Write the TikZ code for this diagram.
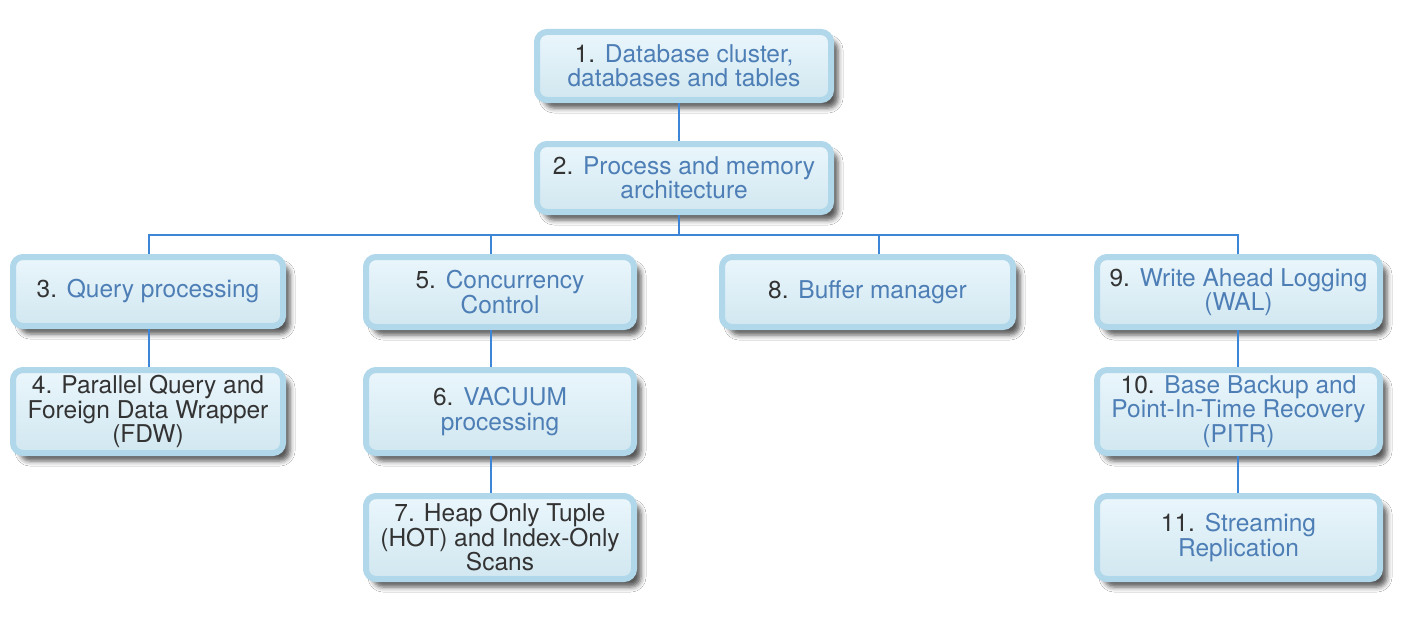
\documentclass[tikz,border=0pt]{standalone}
\usepackage{fontspec}
\newfontfamily\topicfont{TeX Gyre Heros}
\usetikzlibrary{shadows.blur}
\definecolor{numcol}{HTML}{333333}
\definecolor{titlecol}{HTML}{4D7EB5}
\definecolor{boxborder}{HTML}{B1D8EA}
\definecolor{boxtop}{HTML}{EAF6FC}
\definecolor{boxbottom}{HTML}{D1E7F0}
\definecolor{linkcol}{HTML}{3D85D6}
\newcommand\topicnum[1]{\textcolor{numcol}{#1}\hspace{0.4em}}
\tikzset{
  topicbox/.style={draw=boxborder, line width=6pt, rounded corners=10pt,
    top color=boxtop, bottom color=boxbottom,
    blur shadow={shadow xshift=7pt, shadow yshift=-8pt, shadow blur radius=5pt, shadow opacity=65},
    font=\topicfont\fontsize{24.5}{24.5}\selectfont, text=titlecol, align=center,
    inner sep=0pt, minimum height=68pt},
  tallbox/.style={topicbox, minimum height=83pt},
  link/.style={draw=linkcol, line width=2pt}
}
\begin{document}
\begin{tikzpicture}[x=1pt,y=-1pt]
     % Definitions
     \useasboundingbox[fill=white] (0,0) rectangle (1414,642);
     % Topic boxes
     \node[topicbox, minimum width=294pt] (b1) at (684,66) {\topicnum{1.}Database cluster,\\databases and tables};
     \node[topicbox, minimum width=294pt] (b2) at (684,178) {\topicnum{2.}Process and memory\\architecture};
     \node[topicbox, minimum width=270pt, minimum height=69pt] (b3) at (148,291.5) {\topicnum{3.}Query processing};
     \node[tallbox, minimum width=270pt, text=numcol] (b4) at (148,411.5) {4. Parallel Query and\\Foreign Data Wrapper\\(FDW)};
     \node[topicbox, minimum width=268pt, minimum height=70pt] (b5) at (500,292) {\topicnum{5.}Concurrency\\Control};
     \node[tallbox, minimum width=268pt] (b6) at (500,411.5) {\topicnum{6.}VACUUM\\processing};
     \node[tallbox, minimum width=268pt, text=numcol] (b7) at (500,537.5) {7. Heap Only Tuple\\(HOT) and Index-Only\\Scans};
     \node[topicbox, minimum width=291pt, minimum height=70pt] (b8) at (867.5,292) {\topicnum{8.}Buffer manager};
     \node[topicbox, minimum width=283pt, minimum height=70pt] (b9) at (1238.5,292) {\topicnum{9.}Write Ahead Logging\\(WAL)};
     \node[tallbox, minimum width=283pt] (b10) at (1238.5,411.5) {\topicnum{10.}Base Backup and\\Point-In-Time Recovery\\(PITR)};
     \node[tallbox, minimum width=283pt] (b11) at (1238.5,537.5) {\topicnum{11.}Streaming\\Replication};
     % Connectors
     \coordinate (bus) at (679,235);
     \draw[link] ([xshift=-5pt]b2.south) -- (bus);
     \foreach \b/\dx in {b3/1,b5/-9,b8/11,b9/-1} {
      \draw[link] (bus) -| ([xshift=\dx pt]\b.north);
     };
     \foreach \a/\b/\dx in {b1/b2/-5,b3/b4/1,b5/b6/-9,b6/b7/-9,b9/b10/-1,b10/b11/-1} {
      \draw[link] ([xshift=\dx pt]\a.south) -- ([xshift=\dx pt]\b.north);
     };
    \end{tikzpicture}
\end{document}
